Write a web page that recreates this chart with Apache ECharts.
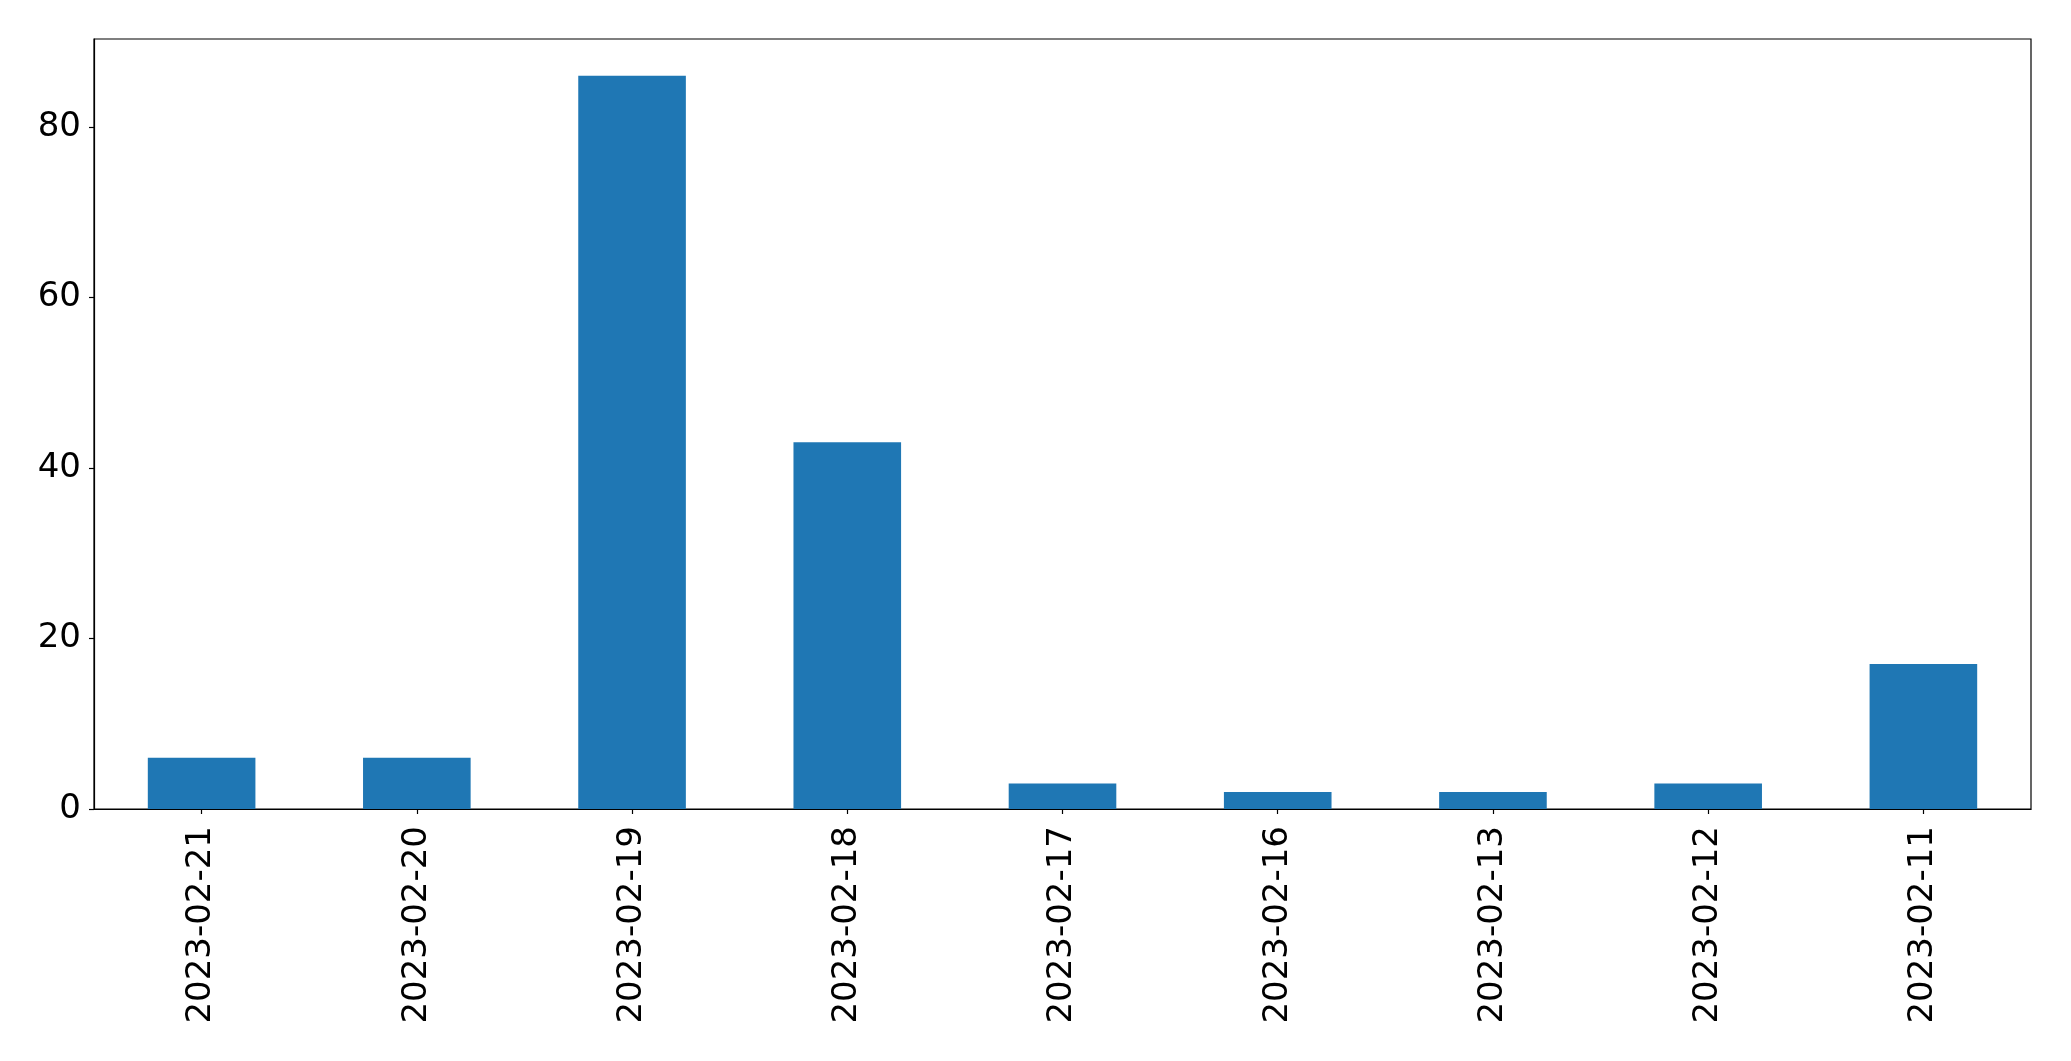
<!DOCTYPE html>
<html>
<head>
<meta charset="utf-8">
<script src="https://cdn.jsdelivr.net/npm/echarts@6/dist/echarts.min.js"></script>
<style>
html,body{margin:0;padding:0;background:#fff;}
#chart{width:2071px;height:1061px;}
</style>
</head>
<body>
<div id="chart"></div>
<script>
const categories = ['2023-02-21','2023-02-20','2023-02-19','2023-02-18','2023-02-17','2023-02-16','2023-02-13','2023-02-12','2023-02-11'];
const values = [6, 6, 86, 43, 3, 2, 2, 3, 17];
const yTicks = [0, 20, 40, 60, 80];

const chart = echarts.init(document.getElementById('chart'), null, {renderer: 'canvas'});
chart.setOption({
  animation: false,
  backgroundColor: '#ffffff',
  textStyle: {fontFamily: 'DejaVu Sans'},
  grid: {left: 94, top: 39, width: 1937, height: 770, containLabel: false,
         show: true, borderColor: '#000', borderWidth: 1.2, backgroundColor: 'transparent'},
  xAxis: {
    type: 'category',
    data: categories,
    boundaryGap: true,
    axisLine: {show: true, lineStyle: {color: '#000', width: 1.2}},
    axisTick: {show: true, alignWithLabel: true, length: 5, lineStyle: {color: '#000', width: 1.2}},
    axisLabel: {rotate: 90, fontSize: 34, color: '#000', margin: 17, fontFamily: 'DejaVu Sans'},
    splitLine: {show: false}
  },
  yAxis: {
    type: 'value',
    min: 0,
    max: 90.3,
    interval: 20,
    axisLine: {show: true, lineStyle: {color: '#000', width: 1.2}},
    axisTick: {show: true, length: 5, lineStyle: {color: '#000', width: 1.2}, customValues: yTicks},
    axisLabel: {fontSize: 34, color: '#000', margin: 13, fontFamily: 'DejaVu Sans', customValues: yTicks},
    splitLine: {show: false}
  },
  series: [{
    type: 'bar',
    data: values,
    barWidth: '50%',
    itemStyle: {color: '#1f77b4'}
  }]
});
</script>
</body>
</html>
